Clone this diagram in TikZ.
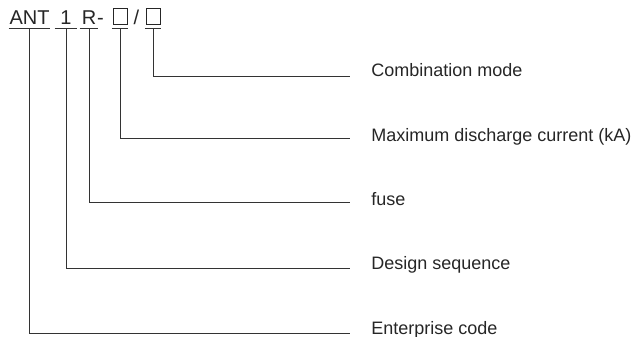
\documentclass[tikz,border=0pt]{standalone}
\usepackage{fontspec}
\setmainfont{Liberation Sans}
\newcommand{\codebox}{\tikz\draw[line width=0.8pt] (0pt,0pt) rectangle (14pt,15.5pt);}
\begin{document}
\begin{tikzpicture}[x=1pt, y=-1pt, line width=0.8pt,
    code/.style={font=\fontsize{20}{24}\selectfont, text=black!85, inner xsep=0pt, inner ysep=3.5pt, anchor=base},
    lbl/.style={font=\fontsize{18}{22}\selectfont, text=black!85, inner sep=0pt, anchor=base west}]

    \useasboundingbox (0,0) rectangle (641,337);

    % model code
    \node [code, minimum width=41] (ant) at (29.5,24.5) {ANT};
    \node [code, minimum width=22] (one) at (66,24.5) {1};
    \node [code, minimum width=18] (r) at (89,24.5) {R};
    \node [code] (dash) at (100.5,24.5) {-};
    \node [code, minimum width=16] (box1) at (120,24.5) {\codebox};
    \node [code] (slash) at (136.5,24.5) {/};
    \node [code, minimum width=16] (box2) at (153,24.5) {\codebox};

    % line ends
    \coordinate (e1) at (350,76);
    \coordinate (e2) at (350,138);
    \coordinate (e3) at (350,202);
    \coordinate (e4) at (350,268.5);
    \coordinate (e5) at (350,333);

    \node [lbl] (comb) at (371,77) {Combination mode};
    \node [lbl] (imax) at (371,141.5) {Maximum discharge current (kA)};
    \node [lbl] (fuse) at (371,205) {fuse};
    \node [lbl] (dseq) at (371,269.5) {Design sequence};
    \node [lbl] (ent) at (371,334.5) {Enterprise code};

    \draw [black!80] (box2.south west) -- (box2.south east) (box2.south) |- (e1);
    \draw [black!80] (box1.south west) -- (box1.south east) (box1.south) |- (e2);
    \draw [black!80] (r.south west) -- (r.south east) (r.south) |- (e3);
    \draw [black!80] (one.south west) -- (one.south east) (one.south) |- (e4);
    \draw [black!80] (ant.south west) -- (ant.south east) (ant.south) |- (e5);

\end{tikzpicture}
\end{document}
